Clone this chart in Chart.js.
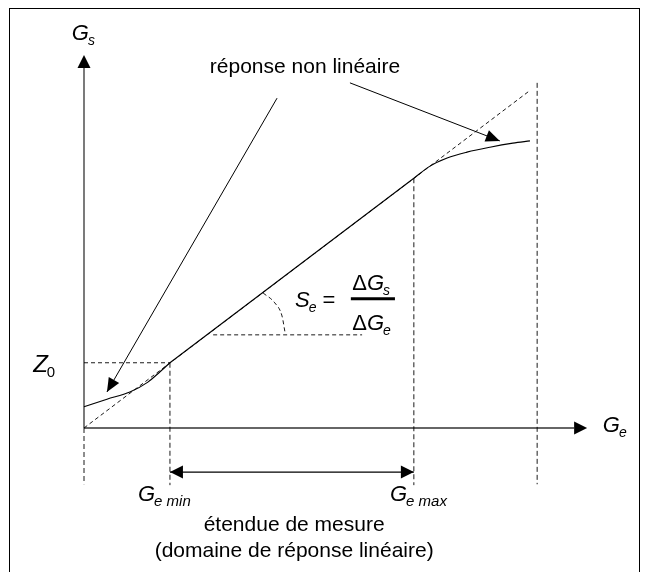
<!DOCTYPE html>
<html>
<head>
<meta charset="utf-8">
<script src="https://cdn.jsdelivr.net/npm/chart.js@4/dist/chart.umd.min.js"></script>
<style>
  body { margin: 0; background: #fff; }
  #frame { position: absolute; left: 9px; top: 8px; width: 629px; height: 570px;
           border: 1.5px solid #000; border-bottom: none; pointer-events: none; }
  canvas { position: absolute; left: 0; top: 0; }
</style>
</head>
<body>
<canvas id="diagram" width="648" height="572"></canvas>
<div id="frame"></div>
<script>
// key input values (Ge) and output values (Gs) of the sensor diagram
const geMin = 1.91;
const geMax = 7.33;
const geEnd = 10.07;     // right dashed limit
const z0 = 1.45;         // Gs at Ge min
const gsAtMax = 5.55;    // Gs at Ge max
const floorY = -1.25;    // bottom end of the dashed verticals
const rangeY = -0.98;    // level of the double arrow

// non linear part near the origin
const lowGe = [0, 0.51, 1.02, 1.42, 1.69, 1.91];
const lowGs = [0.47, 0.64, 0.80, 1.02, 1.25, 1.45];

// non linear part near saturation
const highGe = [7.33, 7.69, 8.07, 8.51, 9.02, 9.53, 9.91];
const highGs = [5.55, 5.82, 6.00, 6.13, 6.24, 6.33, 6.38];

// ideal tangent (dashed)
const tangentGe = [0, 9.87];
const tangentGs = [0, 7.47];

// slope angle marks
const angleGe = [2.87, 6.18];
const angleGs = [2.07, 2.07];
const arcGe = [3.98, 4.24, 4.40, 4.47];
const arcGs = [3.00, 2.78, 2.49, 2.11];

// axes ends
const yAxisTop = 8.0, yAxisTip = 8.29;
const xAxisEnd = 10.89, xAxisTip = 11.18;
const rightTop = 7.67;

// pointer arrows [from, to]
const leftPointer = [[4.29, 7.33], [0.51, 0.80]];
const rightPointer = [[5.91, 7.67], [9.24, 6.38]];

const pts = (xs, ys) => xs.map((x, i) => ({ x: x, y: ys[i] }));

function line(data, dash, width, color, tension) {
    return {
        data: data,
        showLine: true,
        borderColor: color || '#000',
        borderWidth: width || 1,
        borderDash: dash || [],
        pointRadius: 0,
        fill: false,
        cubicInterpolationMode: tension ? 'monotone' : 'default',
        tension: 0
    };
}

const dash = [4, 3];

const datasets = [
    line(pts(lowGe, lowGs), null, 1.1, '#000', true),
    line([{ x: geMin, y: z0 }, { x: geMax, y: gsAtMax }], null, 1.1),
    line(pts(highGe, highGs), null, 1.1, '#000', true),
    line(pts(tangentGe, tangentGs), dash, 0.9),
    line([{ x: 0, y: z0 }, { x: geMin, y: z0 }], dash, 0.9),
    line([{ x: 0, y: 0 }, { x: 0, y: floorY }], [5, 3], 0.9),
    line([{ x: geMin, y: z0 }, { x: geMin, y: floorY - 0.02 }], [5, 3], 0.9),
    line([{ x: geMax, y: gsAtMax }, { x: geMax, y: floorY - 0.02 }], [5, 3], 0.9),
    line([{ x: geEnd, y: rightTop }, { x: geEnd, y: floorY }], [5, 3], 0.9),
    line(pts(angleGe, angleGs), dash, 0.9),
    line(pts(arcGe, arcGs), [4, 3], 0.9, '#000', true),
    // axes
    line([{ x: 0, y: 0 }, { x: 0, y: yAxisTop }], null, 1.3, '#333'),
    line([{ x: 0, y: 0 }, { x: xAxisEnd, y: 0 }], null, 1.3, '#333'),
    // pointers and range
    line(leftPointer.map(p => ({ x: p[0], y: p[1] })), null, 1),
    line(rightPointer.map(p => ({ x: p[0], y: p[1] })), null, 1),
    line([{ x: geMin, y: rangeY }, { x: geMax, y: rangeY }], null, 1.3)
];

// arrow heads and text labels, placed with the chart scales
const overlay = {
    id: 'overlay',
    afterDatasetsDraw(chart) {
        const ctx = chart.ctx;
        const sx = chart.scales.x, sy = chart.scales.y;
        const X = v => sx.getPixelForValue(v);
        const Y = v => sy.getPixelForValue(v);

        function head(fx, fy, tx, ty, len, half) {
            const ax = X(fx), ay = Y(fy), bx = X(tx), by = Y(ty);
            const a = Math.atan2(by - ay, bx - ax);
            ctx.beginPath();
            ctx.moveTo(bx, by);
            ctx.lineTo(bx - len * Math.cos(a) + half * Math.sin(a), by - len * Math.sin(a) - half * Math.cos(a));
            ctx.lineTo(bx - len * Math.cos(a) - half * Math.sin(a), by - len * Math.sin(a) + half * Math.cos(a));
            ctx.closePath();
            ctx.fill();
        }

        ctx.save();
        ctx.fillStyle = '#000';
        ctx.strokeStyle = '#000';
        head(0, yAxisTop, 0, yAxisTip, 13, 6.5);
        head(xAxisEnd, 0, xAxisTip, 0, 13, 6.5);
        head(leftPointer[0][0], leftPointer[0][1], leftPointer[1][0], leftPointer[1][1], 14, 6);
        head(rightPointer[0][0], rightPointer[0][1], rightPointer[1][0], rightPointer[1][1], 14, 6);
        head(geMax, rangeY, geMin, rangeY, 13, 6.5);
        head(geMin, rangeY, geMax, rangeY, 13, 6.5);

        const F = 'Liberation Sans, Arial, sans-serif';
        function text(str, x, y, size, italic, align, base) {
            ctx.font = (italic ? 'italic ' : '') + size + 'px ' + F;
            ctx.textAlign = align || 'left';
            ctx.textBaseline = base || 'alphabetic';
            ctx.fillText(str, X(x), Y(y));
            return ctx.measureText(str).width;
        }
        // main symbol with subscript
        function sym(main, sub, x, y, subItalic, subSize, mainSize) {
            const w = text(main, x, y, mainSize || 22, true);
            ctx.font = (subItalic ? 'italic ' : '') + (subSize || 14) + 'px ' + F;
            ctx.textAlign = 'left';
            ctx.textBaseline = 'alphabetic';
            ctx.fillText(sub, X(x) + w - 1, Y(y) + 5);
            return w + ctx.measureText(sub).width;
        }

        sym('G', 's', -0.27, 8.62, true);
        sym('G', 'e', 11.53, -0.09, true);
        sym('Z', '0', -1.13, 1.24, false, 15, 24);
        sym('G', 'e min', 1.2, -1.62, true, 15);
        sym('G', 'e max', 6.8, -1.62, true, 15);

        // sensitivity formula
        const sw = sym('S', 'e', 4.69, 2.69, true);
        ctx.font = '22px ' + F;
        ctx.textAlign = 'left';
        ctx.fillText('=', X(4.69) + sw + 5, Y(2.69));
        ctx.beginPath();
        ctx.lineWidth = 3;
        ctx.moveTo(X(5.93), Y(2.87));
        ctx.lineTo(X(6.91), Y(2.87));
        ctx.stroke();
        ctx.font = '22px ' + F;
        const dw = ctx.measureText('\u0394').width;
        ctx.fillText('\u0394', X(5.96), Y(3.07));
        ctx.fillText('\u0394', X(5.96), Y(2.18));
        ctx.save();
        ctx.translate(dw, 0);
        sym('G', 's', 5.96, 3.07, true);
        sym('G', 'e', 5.96, 2.18, true);
        ctx.restore();

        text('r\u00e9ponse non lin\u00e9aire', 4.91, 8.02, 21, false, 'center', 'middle');
        text('\u00e9tendue de mesure', 4.67, -2.16, 21, false, 'center', 'middle');
        text('(domaine de r\u00e9ponse lin\u00e9aire)', 4.67, -2.73, 21, false, 'center', 'middle');
        ctx.restore();
    }
};

new Chart(document.getElementById('diagram'), {
    type: 'scatter',
    data: { datasets: datasets },
    options: {
        responsive: false,
        animation: false,
        layout: { padding: 0 },
        plugins: { legend: { display: false }, tooltip: { enabled: false } },
        scales: {
            x: { type: 'linear', display: false, min: -84 / 45, max: 564 / 45 },
            y: { type: 'linear', display: false, min: -144 / 45, max: 428 / 45 }
        }
    },
    plugins: [overlay]
});
</script>
</body>
</html>
